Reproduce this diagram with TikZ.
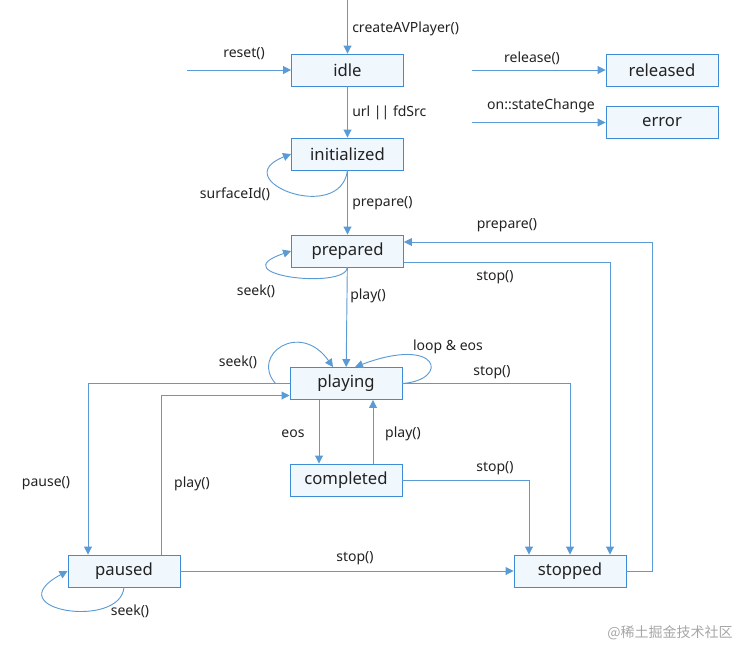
\documentclass[tikz,border=0pt]{standalone}
\usepackage{fontspec}
\setmainfont{Noto Sans}
\newfontfamily\cjk{Noto Sans CJK SC}
\usetikzlibrary{arrows.meta,calc}
\definecolor{boxline}{HTML}{3F8CD6}
\definecolor{boxfill}{HTML}{F0F8FE}
\definecolor{arr}{HTML}{5B9BD5}
\definecolor{txt}{HTML}{222222}
\begin{document}
\begin{tikzpicture}[x=0.75pt,y=-0.75pt,
  state/.style={draw=boxline,fill=boxfill,line width=0.7pt,minimum width=84pt,minimum height=24pt,inner sep=0pt,text=txt,font=\fontsize{12.5}{14}\selectfont},
  tr/.style={draw=arr,line width=0.7pt,-{Triangle[length=6pt,width=6pt]}},
  lbl/.style={font=\fontsize{10.5}{12}\selectfont,inner sep=0pt,text=txt}]
\useasboundingbox (0,0) rectangle (746,647);

\node[state] (idle) at (347.5,70) {idle};
\node[state] (initialized) at (347.5,154) {initialized};
\node[state] (prepared) at (347.5,251) {prepared};
\node[state] (playing) at (346,383.5) {playing};
\node[state] (completed) at (346,480) {completed};
\node[state] (paused) at (124,571) {paused};
\node[state] (stopped) at (570,571) {stopped};
\node[state] (released) at (662,70) {released};
\node[state] (error) at (662,122.5) {error};

\coordinate (top) at (347.5,0);
\coordinate (rs) at (187,70);
\coordinate (rl) at (472,70);
\coordinate (er) at (472,122.5);

\draw[tr] (top) -- (idle);
\draw[tr] (rs) -- (idle);
\draw[tr] (idle) -- (initialized);
\draw[tr] (rl) -- (released);
\draw[tr] (er) -- (error);
\draw[tr] (initialized.south) .. controls (340,225) and (225,180) .. (initialized.west);
\draw[tr] (initialized) -- (prepared);
\draw[tr] (prepared.south) .. controls (345,290) and (220,275) .. (prepared.west);
\draw[tr] (prepared) -- (playing);
\draw[tr] ($(playing.west)+(-14,0)$) .. controls (250,355) and (300,320) .. ($(playing.north)+(-13,0)$);
\draw[tr] (playing.east) .. controls (450,380) and (440,335) .. ($(playing.north)+(9,0)$);
\draw[tr] ($(prepared.east)+(0,11)$) -| ($(stopped.north)+(40,0)$);
\draw[tr] (stopped.east) -- ++(26,0) |- ($(prepared.east)+(0,-9)$);
\draw[tr] (playing.east) -| (stopped.north);
\draw[tr] (completed.east) -| ($(stopped.north)+(-41,0)$);
\draw[tr] ($(playing.south)+(-27,0)$) -- ($(completed.north)+(-27,0)$);
\draw[tr] ($(completed.north)+(27,0)$) -- ($(playing.south)+(27,0)$);
\draw[tr] (playing.west) -| ($(paused.north)+(-36,0)$);
\draw[tr] ($(paused.north)+(37,0)$) |- ($(playing.west)+(0,12)$);
\draw[tr] (paused) -- (stopped);
\draw[tr] (paused.south) .. controls (120,630) and (-5,610) .. (paused.west);

\node[lbl,anchor=west] (l1) at (352,29) {createAVPlayer()};
\node[lbl] (l2) at (244,54) {reset()};
\node[lbl,anchor=west] (l3) at (352,113) {url || fdSrc};
\node[lbl] (l4) at (532,58) {release()};
\node[lbl] (l5) at (541,106) {on::stateChange};
\node[lbl] (l6) at (235,194) {surfaceId()};
\node[lbl,anchor=west] (l7) at (352,203) {prepare()};
\node[lbl] (l8) at (507,225) {prepare()};
\node[lbl] (l9) at (495,277) {stop()};
\node[lbl] (l10) at (256,291) {seek()};
\node[lbl,anchor=west] (l11) at (350,296) {play()};
\node[lbl] (l12) at (238,362) {seek()};
\node[lbl] (l13) at (448,347) {loop \& eos};
\node[lbl] (l14) at (492,372) {stop()};
\node[lbl] (l15) at (293,434) {eos};
\node[lbl] (l16) at (403,434) {play()};
\node[lbl] (l17) at (46,483) {pause()};
\node[lbl] (l18) at (192,484) {play()};
\node[lbl] (l19) at (495,468) {stop()};
\node[lbl] (l20) at (355,558) {stop()};
\node[lbl] (l21) at (130,611) {seek()};
\node[inner sep=0pt,text=black!35,font=\cjk\fontsize{10.5}{12}\selectfont] (wm) at (670,633) {@稀土掘金技术社区};
\end{tikzpicture}
\end{document}
